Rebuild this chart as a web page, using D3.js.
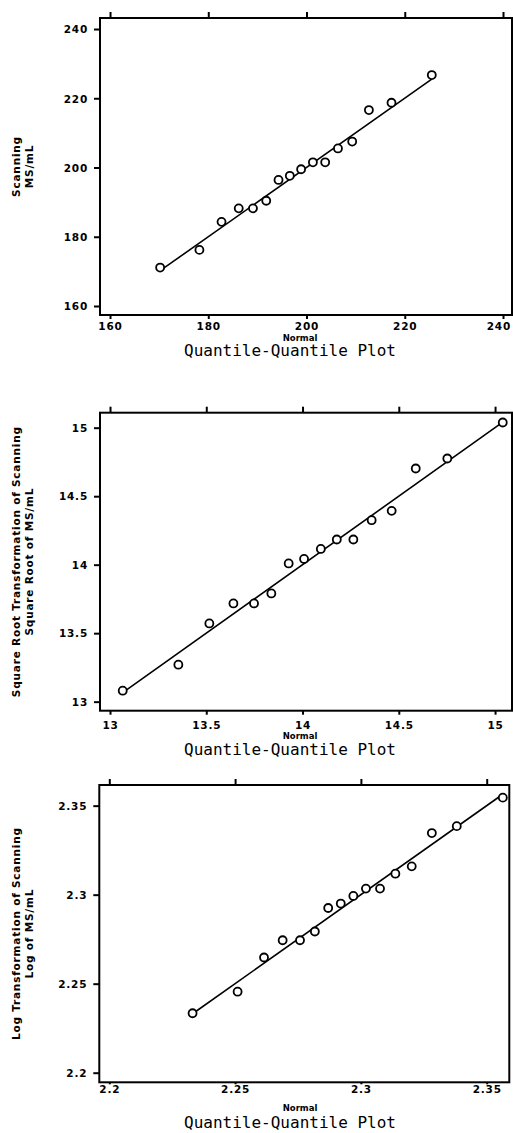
<!DOCTYPE html>
<html>
<head>
<meta charset="utf-8">
<script src="https://cdn.jsdelivr.net/npm/d3@7"></script>
<style>
  body { margin: 0; background: #fff; }
  svg { display: block; }
  .tick-label { font-family: "DejaVu Sans", sans-serif; font-weight: bold; font-size: 10.5px; letter-spacing: 0.8px; }
  .axis-name { font-family: "DejaVu Sans", sans-serif; font-weight: bold; font-size: 8.5px; }
  .y-name { font-family: "DejaVu Sans", sans-serif; font-weight: bold; font-size: 10.5px; letter-spacing: 0.8px; }
  .title { font-family: "DejaVu Sans Mono", monospace; font-size: 16px; }
</style>
</head>
<body>
<div class="chart"></div>
<script>
// panel 1: raw scanning values (normal quantile vs observed)
const normal1 = [170.2, 178.2, 182.7, 186.2, 189.1, 191.8, 194.3, 196.6, 198.9, 201.3, 203.8, 206.4, 209.3, 212.7, 217.3, 225.5];
const observed1 = [171.1, 176.2, 184.3, 188.2, 188.2, 190.4, 196.4, 197.6, 199.5, 201.5, 201.5, 205.5, 207.5, 216.6, 218.7, 226.7];
const ticks1 = [160, 180, 200, 220, 240];

// panel 2: square root transformation
const normal2 = [13.066, 13.355, 13.516, 13.641, 13.748, 13.838, 13.928, 14.008, 14.095, 14.178, 14.264, 14.359, 14.463, 14.588, 14.752, 15.040];
const observed2 = [13.08, 13.27, 13.571, 13.717, 13.717, 13.79, 14.009, 14.042, 14.115, 14.184, 14.184, 14.325, 14.393, 14.702, 14.775, 15.038];
const ticks2 = [13, 13.5, 14, 14.5, 15];

// panel 3: log transformation
const normal3 = [2.2331, 2.2510, 2.2615, 2.2689, 2.2758, 2.2817, 2.2870, 2.2920, 2.2970, 2.3020, 2.3076, 2.3137, 2.3202, 2.3282, 2.3381, 2.3564];
const observed3 = [2.2334, 2.2455, 2.2647, 2.2744, 2.2744, 2.2793, 2.2925, 2.2950, 2.2993, 2.3034, 2.3034, 2.3118, 2.3159, 2.3346, 2.3385, 2.3545];
const ticks3 = [2.2, 2.25, 2.3, 2.35];

const yLabels = [
  ["Scanning", "MS/mL"],
  ["Square Root Transformation of Scanning", "Square Root of MS/mL"],
  ["Log Transformation of Scanning", "Log of MS/mL"]
];
const xLabel = "Normal";
const title = "Quantile-Quantile Plot";

const width = 513, height = 1133;

const panels = [
  { xs: normal1, ys: observed1, ticks: ticks1, labels: yLabels[0],
    left: 100, right: 512, top: 18, bottom: 315,
    xDom: [157.96, 241.83], yDom: [157.40, 243.18],
    tickLen: 4, tickY: 330, nameY: 340.5, titleY: 356 },
  { xs: normal2, ys: observed2, ticks: ticks2, labels: yLabels[1],
    left: 100, right: 512, top: 412.7, bottom: 710.7,
    xDom: [12.948, 15.088], yDom: [12.934, 15.1095],
    tickLen: 4, tickY: 729, nameY: 739, titleY: 755 },
  { xs: normal3, ys: observed3, ticks: ticks3, labels: yLabels[2],
    left: 99.3, right: 509.3, top: 785, bottom: 1082.3,
    xDom: [2.19603, 2.35898], yDom: [2.19461, 2.3616],
    tickLen: 2, tickY: 1093, nameY: 1111, titleY: 1128 }
];

const svg = d3.select(".chart").append("svg")
  .attr("width", width)
  .attr("height", height);

panels.forEach(function(p) {
  const x = d3.scaleLinear().domain(p.xDom).range([p.left, p.right]);
  const y = d3.scaleLinear().domain(p.yDom).range([p.bottom, p.top]);
  const g = svg.append("g");

  // top ticks (outward, no labels)
  g.append("g")
    .attr("transform", "translate(0," + p.top + ")")
    .call(d3.axisTop(x).tickValues(p.ticks).tickSize(6).tickFormat(""))
    .call(a => a.select(".domain").remove())
    .selectAll("line").attr("stroke-width", 2);

  // bottom ticks + labels
  const bx = g.append("g")
    .attr("transform", "translate(0," + p.bottom + ")")
    .call(d3.axisBottom(x).tickValues(p.ticks).tickSize(p.tickLen).tickFormat(d3.format("")));
  bx.select(".domain").remove();
  bx.selectAll("line").attr("stroke-width", 2);
  bx.selectAll("text")
    .attr("class", "tick-label")
    .attr("fill", "#000")
    .attr("y", p.tickY - p.bottom)
    .attr("dy", null)
    .each(function() {
      // keep the last label inside the window
      const b = this.getBBox();
      const t = d3.select(this.parentNode).attr("transform");
      const tx = +t.match(/translate\(([-\d.]+)/)[1];
      const over = tx + b.x + b.width - (width - 2);
      if (over > 0) d3.select(this).attr("x", -over);
    });

  // left ticks + labels
  const ly = g.append("g")
    .attr("transform", "translate(" + p.left + ",0)")
    .call(d3.axisLeft(y).tickValues(p.ticks).tickSize(6).tickFormat(d3.format("")));
  ly.select(".domain").remove();
  ly.selectAll("line").attr("stroke-width", 2);
  ly.selectAll("text")
    .attr("class", "tick-label")
    .attr("fill", "#000")
    .attr("x", -12)
    .attr("dy", "0.36em");

  // frame
  g.append("rect")
    .attr("x", p.left).attr("y", p.top)
    .attr("width", p.right - p.left).attr("height", p.bottom - p.top)
    .attr("fill", "none").attr("stroke", "#000").attr("stroke-width", 2);

  // reference line y = x
  const lo = d3.min(p.xs), hi = d3.max(p.xs);
  g.append("line")
    .attr("x1", x(lo)).attr("y1", y(lo))
    .attr("x2", x(hi)).attr("y2", y(hi))
    .attr("stroke", "#000").attr("stroke-width", 1.6);

  // points
  g.selectAll("circle.pt")
    .data(p.xs.map((v, i) => [v, p.ys[i]]))
    .enter().append("circle")
    .attr("class", "pt")
    .attr("cx", d => x(d[0]))
    .attr("cy", d => y(d[1]))
    .attr("r", 4)
    .attr("fill", "#fff")
    .attr("stroke", "#000")
    .attr("stroke-width", 1.8);

  // x axis name and title
  g.append("text").attr("class", "axis-name")
    .attr("x", 300).attr("y", p.nameY)
    .attr("text-anchor", "middle").text(xLabel);
  g.append("text").attr("class", "title")
    .attr("x", 290).attr("y", p.titleY)
    .attr("text-anchor", "middle").text(title);

  // y axis name (two lines, rotated)
  const cy = (p.top + p.bottom) / 2;
  [20, 33].forEach(function(bx, i) {
    g.append("text").attr("class", "y-name")
      .attr("transform", "translate(" + bx + "," + cy + ") rotate(-90)")
      .attr("text-anchor", "middle")
      .text(p.labels[i]);
  });
});
</script>
</body>
</html>
